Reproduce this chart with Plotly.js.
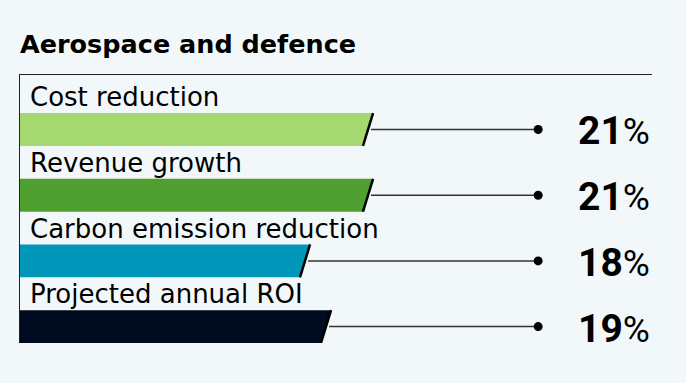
<!DOCTYPE html>
<html><head><meta charset="utf-8">
<script src="https://cdn.plot.ly/plotly-3.0.1.min.js"></script>
<style>html,body{margin:0;padding:0;background:#f2f8fa;}</style>
</head><body>
<div id="chart" style="width:686px;height:383px;"></div>
<script>
const categories = ["Cost reduction", "Revenue growth", "Carbon emission reduction", "Projected annual ROI"];
const values = [21, 21, 18, 19];
const labels = ["21", "21", "18", "19"];
const colors = ["#a5d86f", "#4fa030", "#0097ba", "#000b1f"];

const XMIN = 4.43, XMAX = 34.52, DOT_X = 29.1, SLANT = 0.24, HALF = 0.25;
const FONT = "Roboto, 'Liberation Sans', sans-serif";
const WIDE = "'DejaVu Sans', sans-serif";

const traces = [];
const annotations = [];
values.forEach((v, i) => {
  traces.push({
    type: "scatter", mode: "none", fill: "toself", fillcolor: colors[i],
    x: [XMIN, v + SLANT, v - SLANT, XMIN, XMIN],
    y: [i - HALF, i - HALF, i + HALF, i + HALF, i - HALF],
    hoverinfo: "skip", showlegend: false
  });
  traces.push({
    type: "scatter", mode: "lines",
    x: [v + SLANT, v - SLANT], y: [i - HALF, i + HALF],
    line: {color: "#000000", width: 2.5}, hoverinfo: "skip", showlegend: false
  });
  traces.push({
    type: "scatter", mode: "lines",
    x: [v + SLANT * 0.6, DOT_X], y: [i, i],
    line: {color: "#333333", width: 1.5},
    hoverinfo: "skip", showlegend: false
  });
  traces.push({
    type: "scatter", mode: "markers",
    x: [DOT_X], y: [i],
    marker: {size: 9, color: "#000000", line: {width: 0}},
    hoverinfo: "skip", showlegend: false
  });
  annotations.push({
    x: XMIN, y: i - 0.49, xref: "x", yref: "y", xanchor: "left", yanchor: "middle",
    xshift: 8, showarrow: false, text: categories[i],
    font: {family: WIDE, size: 26, color: "#000000"}
  });
  annotations.push({
    x: 1, y: i + 0.03, xref: "paper", yref: "y", xanchor: "right", yanchor: "middle",
    showarrow: false,
    text: "<b>" + labels[i] + "</b><span style='font-size:37px'>%</span>",
    font: {family: FONT, size: 39, color: "#000000"}
  });
});

const layout = {
  width: 686, height: 383,
  paper_bgcolor: "#f2f8fa", plot_bgcolor: "#f2f8fa",
  margin: {l: 20, r: 34, t: 75, b: 40},
  title: {
    text: "<b>Aerospace and defence</b>",
    x: 20 / 686, xref: "container", xanchor: "left",
    y: 1 - 44 / 383, yref: "container", yanchor: "middle",
    font: {family: WIDE, size: 25.5, color: "#000000"}
  },
  xaxis: {range: [XMIN, XMAX], side: "top", showline: true, linecolor: "#222222", linewidth: 1.5,
          showgrid: false, zeroline: false, showticklabels: false, ticks: ""},
  yaxis: {range: [3.25, -0.83], showline: true, linecolor: "#222222", linewidth: 1.5,
          showgrid: false, zeroline: false, showticklabels: false, ticks: ""},
  annotations: annotations,
  showlegend: false
};

Plotly.newPlot("chart", traces, layout, {staticPlot: true, displayModeBar: false});
</script>
</body></html>
